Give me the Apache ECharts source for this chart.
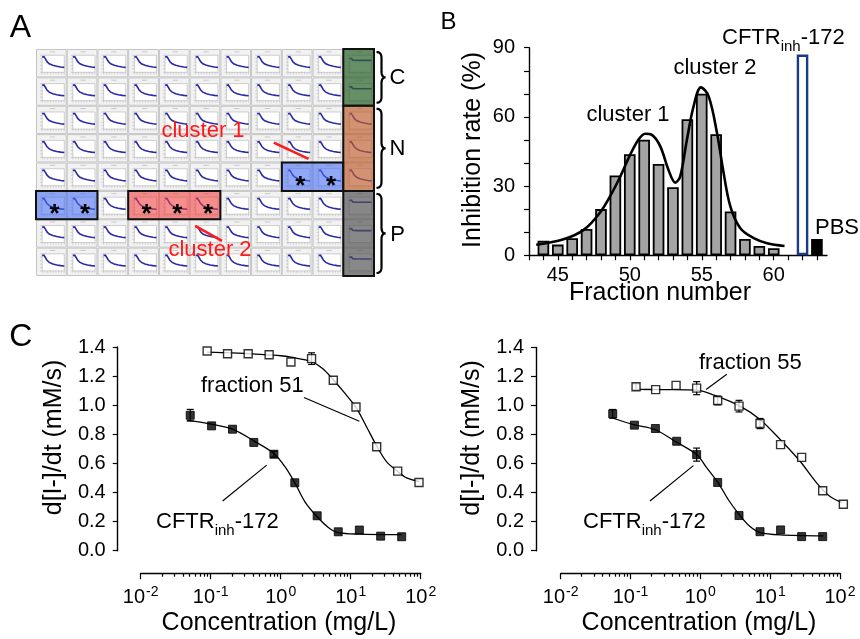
<!DOCTYPE html>
<html>
<head>
<meta charset="utf-8">
<script src="https://cdn.jsdelivr.net/npm/echarts@6/dist/echarts.min.js"></script>
<style>
  html, body { margin: 0; padding: 0; background: #fff; }
  #chart { width: 860px; height: 639px; }
</style>
</head>
<body>
<div id="chart"></div>
<script>
// ── Fonts & colours ─────────────────────────────────────────────────────
const FONT = '"Liberation Sans", Arial, sans-serif';
const INK = '#000';

// ── Panel A: fraction plate ─────────────────────────────────────────────
const plateRows = 8;
const plateCols = 10;
const cluster1Fractions = [49, 50, 51, 52];
const cluster2Fractions = [54, 55, 56];
const controlLabels = ['C', 'N', 'P'];
const controlRowSpans = [[0, 2], [2, 5], [5, 8]];
const controlTraceKind = [1, 0, 1];          // 1 = flat trace, 0 = decay trace
// thumbnail trace shapes (time fraction, relative signal)
const decayTrace = [[0, 0.9], [0.08, 0.92], [0.14, 0.8], [0.22, 0.62], [0.32, 0.5],
                    [0.48, 0.41], [0.66, 0.35], [0.84, 0.31], [1, 0.29]];
const flatTrace  = [[0, 0.8], [0.1, 0.82], [0.14, 0.72], [0.3, 0.7], [1, 0.7]];

// ── Panel B: inhibition per fraction ────────────────────────────────────
const fractions  = [44, 45, 46, 47, 48, 49, 50, 51, 52, 53, 54, 55, 56, 57, 58, 59, 60];
const inhibition = [6.3, 4.6, 7.4, 11.4, 20, 34.6, 43.8, 50.1, 39.6, 29.5, 59, 70, 52.5, 19, 7, 4, 3];
const cftrFraction = 62, cftrInhibition = 87;
const pbsFraction = 63, pbsInhibition = 7;
const fitFraction   = [43.5, 45.4, 46.8, 47.9, 48.75, 49.45, 50.03, 50.6, 51.07, 51.54, 52.12, 52.69,
                       53.16, 53.5, 53.97, 54.43, 54.95, 55.48, 56.06, 56.52, 56.99, 57.68, 58.61, 59.54, 60.75];
const fitInhibition = [4.5, 6.9, 11.0, 18.2, 26.9, 35.6, 43.6, 50.1, 52.7, 52.2, 47.2, 37.0,
                       31.5, 34.1, 50.1, 64.5, 72.8, 68.9, 53.0, 35.6, 21.1, 11.7, 7.4, 5.2, 4.0];

// ── Panel C left: fraction 51 vs CFTRinh-172 ────────────────────────────
const frac51Conc = [0.089, 0.174, 0.343, 0.684, 1.40, 2.76, 5.64, 11.9, 23.5, 46.9, 94.6];
const frac51Rate = [1.373, 1.354, 1.354, 1.347, 1.297, 1.32, 1.171, 0.988, 0.714, 0.547, 0.469];
const frac51Err  = [[2.76, 1.32, 0.04]];
const fit51Conc  = [0.089, 0.2, 0.5, 1.0, 1.4, 2.76, 4.0, 5.64, 8.0, 11.9, 16.9, 23.5, 32.7, 46.9, 63, 94.6];
const fit51Rate  = [1.365, 1.36, 1.35, 1.34, 1.33, 1.30, 1.25, 1.175, 1.09, 0.985, 0.85, 0.72, 0.61, 0.545, 0.50, 0.475];

const cftrLConc = [0.051, 0.103, 0.205, 0.413, 0.80, 1.59, 3.32, 6.64, 13.3, 26.8, 53.5];
const cftrLRate = [0.931, 0.858, 0.835, 0.744, 0.663, 0.467, 0.240, 0.130, 0.142, 0.100, 0.096];
const cftrLErr  = [[0.051, 0.931, 0.04], [0.80, 0.663, 0.02]];
const fitCftrLConc = [0.046, 0.103, 0.205, 0.413, 0.80, 1.15, 1.59, 2.22, 3.32, 4.79, 6.64, 13.3, 53.5];
const fitCftrLRate = [0.897, 0.869, 0.835, 0.755, 0.668, 0.577, 0.467, 0.336, 0.233, 0.16, 0.124, 0.114, 0.11];

// ── Panel C right: fraction 55 vs CFTRinh-172 ───────────────────────────
const frac55Conc = [0.12, 0.229, 0.449, 0.885, 1.77, 3.58, 7.15, 14.1, 28.2, 56.5, 111.7];
const frac55Rate = [1.13, 1.11, 1.139, 1.12, 1.035, 0.996, 0.876, 0.731, 0.643, 0.413, 0.32];
const frac55Err  = [[0.12, 1.13, 0.02], [0.885, 1.12, 0.045], [1.77, 1.035, 0.03], [3.58, 0.996, 0.04], [7.15, 0.876, 0.035]];
const fit55Conc  = [0.122, 0.3, 0.887, 1.72, 3.7, 7.16, 13.9, 26.8, 46.5, 72, 112];
const fit55Rate  = [1.111, 1.11, 1.107, 1.065, 0.996, 0.904, 0.766, 0.616, 0.466, 0.374, 0.328];

const cftrRConc = [0.0556, 0.1135, 0.227, 0.458, 0.885, 1.77, 3.58, 7.15, 14.1, 28.2, 56.5];
const cftrRRate = [0.943, 0.865, 0.842, 0.754, 0.662, 0.470, 0.242, 0.131, 0.143, 0.097, 0.097];
const cftrRErr  = [[0.0556, 0.943, 0.03], [0.885, 0.662, 0.045]];
const fitCftrRConc = [0.0537, 0.11, 0.224, 0.434, 0.887, 1.24, 1.81, 2.52, 3.62, 5.15, 7.16, 13.9, 57.8];
const fitCftrRRate = [0.916, 0.869, 0.835, 0.754, 0.662, 0.57, 0.466, 0.351, 0.247, 0.166, 0.125, 0.109, 0.102];

// ── helpers ─────────────────────────────────────────────────────────────
const zip = (xs, ys) => xs.map((x, i) => [x, ys[i]]);
const decades = [0.01, 0.1, 1, 10, 100];
const minorLogTicks = [];
[0.01, 0.1, 1, 10].forEach(d => { for (let k = 2; k <= 9; k++) minorLogTicks.push(+(k * d).toPrecision(3)); });

function wellOf(n) { return { c: (n - 1) % plateCols, r: Math.floor((n - 1) / plateCols) }; }
function runsOf(list) {
  const out = [];
  list.forEach(n => {
    const { c, r } = wellOf(n);
    const last = out[out.length - 1];
    if (last && last.r === r && last.c1 === c) last.c1 = c + 1;
    else out.push({ r, c0: c, c1: c + 1 });
  });
  return out;
}

const wellData = [];
for (let r = 0; r < plateRows; r++) for (let c = 0; c < plateCols; c++) wellData.push([c, r, 0]);
controlRowSpans.forEach(([r0, r1], g) => { for (let r = r0; r < r1; r++) wellData.push([plateCols, r, controlTraceKind[g]]); });

// box style index: 0 blue, 1 red, 2 green, 3 brown, 4 grey
const boxFills = ['rgba(70,110,240,0.6)', 'rgba(240,60,60,0.58)', 'rgba(45,100,45,0.72)',
                  'rgba(190,95,45,0.68)', 'rgba(80,80,80,0.68)'];
const boxData = [];
runsOf(cluster1Fractions).forEach(b => boxData.push([b.c0, b.c1, b.r, b.r + 1, 0]));
runsOf(cluster2Fractions).forEach(b => boxData.push([b.c0, b.c1, b.r, b.r + 1, 1]));
controlRowSpans.forEach(([r0, r1], g) => boxData.push([plateCols, plateCols + 1, r0, r1, 2 + g]));
const starData = cluster1Fractions.concat(cluster2Fractions).map(n => { const w = wellOf(n); return [w.c, w.r]; });
const braceData = controlRowSpans.map(([r0, r1], g) => [r0, r1, g]);

function renderWell(params, api) {
  const p = api.coord([api.value(0), api.value(1)]);
  const s = api.size([1, 1]);
  const x = p[0], y = p[1], w = s[0], h = s[1];
  const ix = x + w * 0.2, iy = y + h * 0.22, iw = w * 0.72, ih = h * 0.6;
  const trace = api.value(2) === 1 ? flatTrace : decayTrace;
  const pts = trace.map(([t, v]) => [ix + t * iw, iy + ih * (1 - v)]);
  const thin = { stroke: '#b8b8b8', lineWidth: 0.6 };
  const children = [
    { type: 'rect', shape: { x: x + 0.5, y: y + 0.5, width: w - 1, height: h - 1 }, style: { fill: '#f2f2f2', stroke: '#c4c4c4', lineWidth: 1 } },
    { type: 'rect', shape: { x: ix, y: iy, width: iw, height: ih }, style: { fill: '#fff', stroke: '#b0b0b0', lineWidth: 0.6 } },
    { type: 'line', shape: { x1: x + w * 0.45, y1: y + h * 0.1, x2: x + w * 0.62, y2: y + h * 0.1 }, style: { stroke: '#c8c8c8', lineWidth: 1 } }
  ];
  for (let k = 0; k <= 5; k++) children.push({ type: 'line', shape: { x1: ix - 2, y1: iy + ih * k / 5, x2: ix, y2: iy + ih * k / 5 }, style: thin });
  for (let k = 0; k <= 8; k++) children.push({ type: 'line', shape: { x1: ix + iw * k / 8, y1: iy + ih, x2: ix + iw * k / 8, y2: iy + ih + 2 }, style: thin });
  children.push({ type: 'polyline', shape: { points: pts }, style: { stroke: '#2a2aa8', lineWidth: 1.6, fill: 'none' } });
  return { type: 'group', children };
}

function renderBox(params, api) {
  const a = api.coord([api.value(0), api.value(2)]);
  const b = api.coord([api.value(1), api.value(3)]);
  return { type: 'rect', shape: { x: a[0], y: a[1], width: b[0] - a[0], height: b[1] - a[1] },
           style: { fill: boxFills[api.value(4)], stroke: '#111', lineWidth: 2 } };
}

function renderStar(params, api) {
  const p = api.coord([api.value(0) + 0.6, api.value(1) + 0.86]);
  return { type: 'text', x: p[0], y: p[1],
           style: { text: '*', font: 'bold 26px ' + FONT, fill: '#000', align: 'center', verticalAlign: 'middle' } };
}

function quad(p0, c, p1, n) {
  const out = [];
  for (let i = 0; i <= n; i++) {
    const t = i / n, u = 1 - t;
    out.push([u * u * p0[0] + 2 * u * t * c[0] + t * t * p1[0], u * u * p0[1] + 2 * u * t * c[1] + t * t * p1[1]]);
  }
  return out;
}
function renderBrace(params, api) {
  const top = api.coord([plateCols + 1, api.value(0)]);
  const bot = api.coord([plateCols + 1, api.value(1)]);
  const x0 = top[0] + 2.5, xs = x0 + 5, xt = x0 + 9;
  const y0 = top[1] + 3, y1 = bot[1] - 3, ym = (y0 + y1) / 2, q = 6;
  const pts = [].concat(
    quad([x0, y0], [xs, y0], [xs, y0 + q], 8),
    quad([xs, ym - q], [xs, ym], [xt, ym], 8),
    quad([xt, ym], [xs, ym], [xs, ym + q], 8),
    quad([xs, y1 - q], [xs, y1], [x0, y1], 8)
  );
  return { type: 'group', children: [
    { type: 'polyline', shape: { points: pts }, style: { stroke: '#000', lineWidth: 2.2, fill: 'none' } },
    { type: 'text', x: x0 + 21, y: ym + 1, style: { text: controlLabels[api.value(2)], font: '22px ' + FONT, fill: '#000', align: 'center', verticalAlign: 'middle' } }
  ] };
}

function renderErr(params, api) {
  const xv = api.value(0), yv = api.value(1), e = api.value(2);
  const t = api.coord([xv, yv + e]), b = api.coord([xv, yv - e]);
  const st = { stroke: '#000', lineWidth: 1.2 };
  return { type: 'group', children: [
    { type: 'line', shape: { x1: t[0], y1: t[1], x2: b[0], y2: b[1] }, style: st },
    { type: 'line', shape: { x1: t[0] - 3.5, y1: t[1], x2: t[0] + 3.5, y2: t[1] }, style: st },
    { type: 'line', shape: { x1: b[0] - 3.5, y1: b[1], x2: b[0] + 3.5, y2: b[1] }, style: st }
  ] };
}

// ── axes ────────────────────────────────────────────────────────────────
const axLine = { show: true, onZero: false, lineStyle: { color: INK, width: 1.4 } };
const axTick = (len) => ({ show: true, length: len, lineStyle: { color: INK, width: 1.2 } });
const lab = (extra) => Object.assign({ color: INK, fontSize: 20, fontFamily: FONT }, extra);

function logAxes(gridIndex) {
  return [
    { gridIndex, type: 'log', logBase: 10, min: 0.01, max: 100, position: 'bottom', offset: 22.5,
      axisLine: axLine, axisTick: Object.assign(axTick(6), { customValues: decades }),
      splitLine: { show: false }, minorTick: { show: false },
      axisLabel: { customValues: decades, margin: 12, color: INK,
        formatter: v => '{b|10}{s|' + Math.round(Math.log10(v)) + '}',
        rich: { b: { fontSize: 20, fontFamily: FONT, color: INK, verticalAlign: 'bottom' },
                s: { fontSize: 14, fontFamily: FONT, color: INK, verticalAlign: 'top', padding: [0, 0, 8, 1] } } } },
    { gridIndex, type: 'log', logBase: 10, min: 0.01, max: 100, position: 'bottom', offset: 22.5,
      axisLine: { show: false, onZero: false }, axisLabel: { show: false }, splitLine: { show: false },
      axisTick: Object.assign(axTick(3.5), { customValues: minorLogTicks }) }
  ];
}
function rateAxis(gridIndex, offset) {
  return { gridIndex, type: 'value', min: 0, max: 1.4, interval: 0.2, offset,
    axisLine: axLine, axisTick: axTick(5), splitLine: { show: false },
    axisLabel: lab({ margin: 12, formatter: v => v.toFixed(1) }) };
}

const open = { color: '#fff', borderColor: INK, borderWidth: 1.4 };
const filled = { color: '#000', borderColor: INK, borderWidth: 1 };
const fitLine = (xi, yi, data) => ({ type: 'line', xAxisIndex: xi, yAxisIndex: yi, data, smooth: 0.3, symbol: 'none',
  clip: false, lineStyle: { color: INK, width: 1.3 }, z: 3 });
const pts = (xi, yi, data, style) => ({ type: 'scatter', xAxisIndex: xi, yAxisIndex: yi, data, symbol: 'rect',
  symbolSize: 8, clip: false, itemStyle: style, z: 5 });
const errs = (xi, yi, data) => ({ type: 'custom', xAxisIndex: xi, yAxisIndex: yi, data, renderItem: renderErr, z: 4 });
const pointer = (xi, yi, data, color, width) => ({ type: 'line', xAxisIndex: xi, yAxisIndex: yi, data, symbol: 'none',
  clip: false, lineStyle: { color, width }, z: 6, silent: true });

// bar items
const barItems = fractions.map((f, i) => ({ value: [f, inhibition[i]], itemStyle: { color: '#a4a4a4', borderColor: INK, borderWidth: 1.8 } }));
barItems.push({ value: [cftrFraction, cftrInhibition], itemStyle: { color: '#fff', borderColor: '#1c3a86', borderWidth: 2.4 } });
barItems.push({ value: [pbsFraction, pbsInhibition], itemStyle: { color: '#000', borderColor: INK, borderWidth: 1.5 } });

const cftrRich = (fs) => ({
  text: '{n|CFTR}{s|inh}{n|-172}',
  rich: { n: { fontSize: fs, fontFamily: FONT, fill: INK, verticalAlign: 'top' },
          s: { fontSize: Math.round(fs * 0.68), fontFamily: FONT, fill: INK, verticalAlign: 'bottom', padding: [12, 0, 0, 0] } }
});
const txt = (x, y, text, size, extra, rotation) => ({ type: 'text', x, y, z: 20, rotation: rotation || 0,
  style: Object.assign({ text, font: size + 'px ' + FONT, fill: INK, align: 'center', verticalAlign: 'middle' }, extra || {}) });
const UP = Math.PI / 2;

const chart = echarts.init(document.getElementById('chart'), null, { renderer: 'canvas' });
chart.setOption({
  animation: false,
  backgroundColor: '#fff',
  grid: [
    { left: 36, top: 49, width: 338, height: 227 },
    { left: 529, top: 47.7, width: 298, height: 207.5 },
    { left: 140.7, top: 347, width: 280, height: 203.7 },
    { left: 560.7, top: 347.5, width: 279.3, height: 203.2 }
  ],
  xAxis: [
    { gridIndex: 0, type: 'value', min: 0, max: plateCols + 1, show: false },
    { gridIndex: 1, type: 'value', min: 43, max: 63.7, interval: 1,
      axisLine: axLine, axisTick: axTick(5), splitLine: { show: false },
      axisLabel: lab({ margin: 10, showMaxLabel: false, formatter: v => (v % 5 === 0 && v <= 60) ? String(v) : '' }) }
  ].concat(logAxes(2), logAxes(3)),
  yAxis: [
    { gridIndex: 0, type: 'value', min: 0, max: plateRows, inverse: true, show: false },
    { gridIndex: 1, type: 'value', min: 0, max: 90, interval: 10,
      axisLine: axLine, axisTick: axTick(5), splitLine: { show: false },
      axisLabel: lab({ margin: 14, formatter: v => (v % 30 === 0) ? String(v) : '' }) },
    rateAxis(2, 23),
    rateAxis(3, 24.7)
  ],
  series: [
    // panel A
    { type: 'custom', xAxisIndex: 0, yAxisIndex: 0, data: wellData, renderItem: renderWell, silent: true },
    { type: 'custom', xAxisIndex: 0, yAxisIndex: 0, data: boxData, renderItem: renderBox, silent: true, z: 3 },
    { type: 'custom', xAxisIndex: 0, yAxisIndex: 0, data: starData, renderItem: renderStar, silent: true, z: 4 },
    { type: 'custom', xAxisIndex: 0, yAxisIndex: 0, data: braceData, renderItem: renderBrace, silent: true, z: 4 },
    pointer(0, 0, [[7.74, 3.30], [8.87, 3.87]], '#ff1a1a', 2.6),
    pointer(0, 0, [[5.18, 6.23], [6.05, 6.76]], '#ff1a1a', 2.6),
    // panel B
    { type: 'bar', xAxisIndex: 1, yAxisIndex: 1, data: barItems, barWidth: 11.6, z: 2 },
    { type: 'line', xAxisIndex: 1, yAxisIndex: 1, data: zip(fitFraction, fitInhibition), smooth: 0.35,
      symbol: 'none', lineStyle: { color: INK, width: 2.6 }, z: 3 },
    // panel C left
    fitLine(2, 2, zip(fit51Conc, fit51Rate)),
    fitLine(2, 2, zip(fitCftrLConc, fitCftrLRate)),
    errs(2, 2, frac51Err.concat(cftrLErr)),
    pts(2, 2, zip(frac51Conc, frac51Rate), open),
    pts(2, 2, zip(cftrLConc, cftrLRate), filled),
    pointer(2, 2, [[2.15, 1.053], [13.3, 0.89]], INK, 1.2),
    pointer(2, 2, [[0.148, 0.341], [0.631, 0.588]], INK, 1.2),
    // panel C right
    fitLine(4, 3, zip(fit55Conc, fit55Rate)),
    fitLine(4, 3, zip(fitCftrRConc, fitCftrRRate)),
    errs(4, 3, frac55Err.concat(cftrRErr)),
    pts(4, 3, zip(frac55Conc, frac55Rate), open),
    pts(4, 3, zip(cftrRConc, cftrRRate), filled),
    pointer(4, 3, [[2.39, 1.215], [1.21, 1.111]], INK, 1.2),
    pointer(4, 3, [[0.19, 0.343], [0.794, 0.586]], INK, 1.2)
  ],
  graphic: [
    txt(20.5, 28, 'A', 32),
    txt(448.5, 22, 'B', 24),
    txt(20.8, 337, 'C', 32),
    txt(203, 131, 'cluster 1', 22, { fill: '#ff1a1a' }),
    txt(210, 250, 'cluster 2', 22, { fill: '#ff1a1a' }),
    // panel B texts
    txt(473, 150, 'Inhibition rate (%)', 25, null, UP),
    txt(660, 293, 'Fraction number', 25),
    txt(628, 115, 'cluster 1', 22),
    txt(715, 68, 'cluster 2', 22),
    { type: 'text', x: 722, y: 27, z: 20, style: cftrRich(22) },
    txt(815, 228, 'PBS', 22, { align: 'left' }),
    // panel C texts
    txt(54, 437.5, 'd[I-]/dt (mM/s)', 25, null, UP),
    txt(279, 623, 'Concentration (mg/L)', 25),
    txt(472, 438, 'd[I-]/dt (mM/s)', 25, null, UP),
    txt(699, 623, 'Concentration (mg/L)', 25),
    txt(201, 386, 'fraction 51', 22, { align: 'left' }),
    txt(699, 363, 'fraction 55', 22, { align: 'left' }),
    { type: 'text', x: 156, y: 511, z: 20, style: cftrRich(22) },
    { type: 'text', x: 583, y: 511, z: 20, style: cftrRich(22) }
  ]
});
</script>
</body>
</html>
